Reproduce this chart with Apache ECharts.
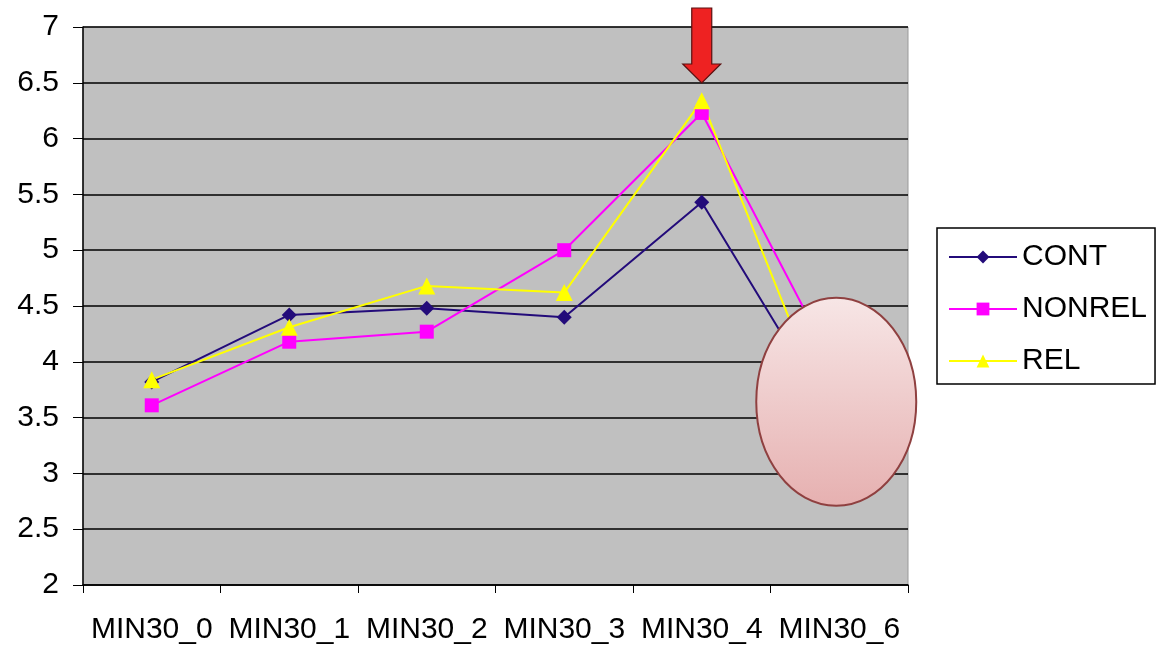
<!DOCTYPE html>
<html><head><meta charset="utf-8">
<script src="https://cdn.jsdelivr.net/npm/echarts@6/dist/echarts.min.js"></script>
<style>html,body{margin:0;padding:0;background:#fff}#c{width:1167px;height:648px}</style>
</head><body><div id="c"></div>
<script>
const categories = ['MIN30_0','MIN30_1','MIN30_2','MIN30_3','MIN30_4','MIN30_6'];
const contValues = [3.82, 4.42, 4.48, 4.40, 5.43, 3.40];
const nonrelValues = [3.61, 4.18, 4.27, 5.00, 6.23, 3.87];
const relValues = [3.84, 4.31, 4.68, 4.62, 6.34, 3.27];
const yTicks = {min: 2, max: 7, interval: 0.5};
const FONT = '"Liberation Sans", Arial, sans-serif';

const chart = echarts.init(document.getElementById('c'), null, {renderer: 'canvas'});
const mkSeries = (name, data, color, symbol, size) => ({
  name, type: 'line', data, symbol, symbolSize: size,
  lineStyle: {color, width: 2}, itemStyle: {color},
  emphasis: {disabled: true}, animation: false
});
chart.setOption({
  animation: false,
  backgroundColor: '#fff',
  grid: {left: 83, right: 259, top: 27, bottom: 63, show: true, backgroundColor: '#c0c0c0', borderColor: '#9a9a9a', borderWidth: 1},
  xAxis: {
    type: 'category', data: categories, boundaryGap: true,
    axisLine: {lineStyle: {color: '#000', width: 1.5}},
    axisTick: {show: true, length: 8, lineStyle: {color: '#000'}},
    axisLabel: {fontFamily: FONT, fontSize: 30, color: '#000', margin: 30, interval: 0},
    splitLine: {show: false}
  },
  yAxis: {
    type: 'value', min: yTicks.min, max: yTicks.max, interval: yTicks.interval,
    axisLine: {show: true, lineStyle: {color: '#000', width: 1.5}},
    axisTick: {show: true, length: 10, lineStyle: {color: '#000'}},
    axisLabel: {fontFamily: FONT, fontSize: 30, color: '#000', margin: 24},
    splitLine: {show: true, lineStyle: {color: '#000', width: 1.5}}
  },
  legend: {
    orient: 'vertical', left: 937, top: 228,
    padding: [14, 8, 8, 11], itemGap: 22, itemWidth: 68, itemHeight: 16,
    borderColor: '#000', borderWidth: 1.5,
    textStyle: {fontFamily: FONT, fontSize: 30, color: '#000'},
    data: ['CONT','NONREL','REL']
  },
  series: [
    mkSeries('CONT', contValues, '#230b7a', 'diamond', 15),
    mkSeries('NONREL', nonrelValues, '#ff00ff', 'rect', 14),
    mkSeries('REL', relValues, '#ffff00', 'triangle', 17)
  ]
});

// annotations: arrow above MIN30_4 peak and ellipse over MIN30_6
const ax = chart.convertToPixel({xAxisIndex: 0}, 'MIN30_4');
const ex = chart.convertToPixel({xAxisIndex: 0}, 'MIN30_6');
const ey = chart.convertToPixel({yAxisIndex: 0}, 3.65);
chart.setOption({
  graphic: [
    {type: 'polygon', z: 100,
     shape: {points: [[ax-10,8],[ax+10,8],[ax+10,64],[ax+19,64],[ax,83],[ax-19,64],[ax-10,64]]},
     style: {fill: '#ee2222', stroke: '#5a1010', lineWidth: 1.2}},
    {type: 'ellipse', z: 100,
     shape: {cx: ex - 3, cy: ey + 1, rx: 80, ry: 104},
     style: {fill: new echarts.graphic.LinearGradient(0,0,0,1,[{offset:0,color:'#f7e6e6'},{offset:1,color:'#e6b0b0'}]),
             stroke: '#8f4040', lineWidth: 2}}
  ]
});
</script></body></html>
